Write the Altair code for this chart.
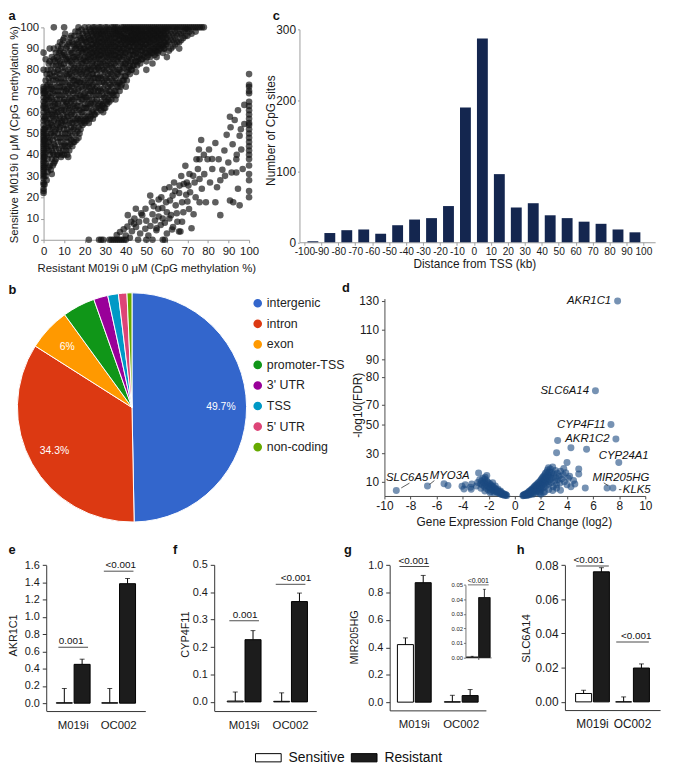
import altair as alt
import pandas as pd

# ---------------------------------------------------------------- data
# a : CpG methylation, resistant (x) vs sensitive (y)
a_col0 = [22, 23, 24, 26, 27, 29, 30, 31, 32, 33, 34, 35, 36, 37, 38, 39, 40, 41, 42, 43, 44,
          45, 46, 47, 48, 49, 50, 51, 52, 54, 56, 58, 60, 62, 63, 65, 67, 69, 70, 71, 72, 80, 88]
a_top = [5, 10, 17, 20, 22, 24, 25, 27, 28, 30, 31, 33, 34, 35, 36, 38, 39, 40, 41, 42, 43, 44,
         45, 46, 47, 48, 49, 50, 51, 52, 53, 54, 55, 56, 57, 58, 59, 60, 61, 62, 63, 64, 65, 66,
         67, 68, 69, 70, 71, 72, 73, 74, 75, 76, 77, 78]
a_upper = [
    (1, [30, 36, 41, 45, 50, 53, 58, 62, 66, 70, 75, 85]),
    (2, [32, 38, 44, 48, 55, 60, 64, 68, 73, 80]),
    (3, [35, 40, 47, 52, 57, 63, 69, 74, 78, 84, 90]),
    (4, [31, 38, 42, 50, 54, 59, 66, 71, 77, 86]),
    (5, [36, 40, 45, 49, 56, 61, 65, 72, 79, 85, 90]),
    (6, [38, 43, 52, 57, 62, 68, 75, 82, 88]),
    (7, [40, 46, 50, 55, 60, 64, 70, 76, 80, 85, 91]),
    (8, [41, 48, 53, 58, 66, 72, 78, 84, 89, 93]),
    (9, [40, 44, 50, 56, 62, 68, 74, 81, 87, 92]),
    (10, [40, 45, 52, 57, 61, 66, 71, 76, 83, 88, 95]),
    (11, [42, 48, 54, 60, 65, 70, 78, 85, 90]),
    (12, [39, 44, 50, 58, 63, 69, 74, 80, 86, 92]),
    (13, [45, 51, 56, 62, 67, 73, 79, 84, 89, 95]),
    (14, [44, 49, 55, 60, 66, 72, 77, 83, 88, 93]),
    (15, [46, 53, 59, 64, 70, 75, 81, 86, 91, 96]),
    (16, [47, 55, 61, 67, 73, 78, 84, 90, 94]),
    (17, [48, 53, 58, 65, 71, 76, 82, 88, 93, 98]),
    (18, [52, 57, 63, 68, 74, 80, 85, 90, 95]),
    (19, [54, 60, 66, 71, 77, 83, 88, 92, 97]),
    (20, [55, 58, 64, 69, 75, 81, 86, 90, 94]),
    (21, [56, 62, 67, 73, 79, 84, 89, 93, 97]),
    (22, [55, 60, 66, 72, 77, 82, 87, 91, 95]),
    (23, [58, 64, 70, 75, 80, 86, 90, 94, 98]),
    (24, [57, 61, 68, 73, 78, 84, 88, 92, 96]),
    (25, [59, 65, 71, 76, 82, 87, 91, 95, 99]),
    (26, [60, 66, 72, 78, 83, 88, 92, 96]),
    (27, [62, 68, 74, 80, 85, 89, 93, 97]),
    (28, [61, 65, 70, 76, 82, 87, 91, 95, 98]),
    (29, [60, 64, 71, 77, 83, 88, 92, 96]),
    (30, [62, 67, 73, 79, 84, 89, 93, 97]),
    (31, [64, 69, 75, 81, 86, 90, 94, 98]),
    (32, [65, 70, 76, 82, 87, 91, 95, 99]),
    (33, [66, 72, 78, 83, 88, 92, 96]),
    (34, [68, 74, 80, 85, 89, 93, 97]),
    (35, [66, 70, 76, 82, 87, 91, 95, 98]),
    (36, [72, 78, 84, 88, 92, 96, 99]),
    (37, [70, 74, 80, 86, 90, 94, 97]),
    (38, [73, 79, 85, 89, 93, 96]),
    (39, [75, 81, 86, 90, 94, 97]),
    (40, [72, 77, 83, 88, 92, 95, 99]),
    (41, [79, 84, 89, 93, 96]),
    (42, [78, 82, 87, 91, 94, 98]),
    (43, [80, 85, 89, 93, 96, 99]),
    (44, [82, 87, 91, 94, 97]),
    (45, [79, 84, 88, 92, 95, 98]),
    (46, [84, 89, 93, 96, 99]),
    (47, [83, 87, 91, 94, 97]),
    (48, [85, 89, 92, 95, 98]),
    (49, [86, 90, 94, 97]),
    (50, [80, 84, 88, 92, 95, 98]),
    (51, [87, 91, 94, 97]),
    (52, [86, 89, 93, 96, 99]),
    (53, [83, 88, 92, 95, 98]),
    (54, [87, 90, 94, 97]),
    (55, [86, 89, 93, 96, 99]),
    (56, [89, 92, 95, 98]),
    (57, [90, 94, 97]),
    (58, [88, 91, 95, 98]),
    (59, [90, 93, 96, 99]),
    (60, [86, 92, 95, 98]),
    (62, [90, 94, 97]),
    (64, [92, 95, 98]),
    (66, [90, 93, 97]),
    (68, [95, 98]),
    (70, [96, 99]),
    (72, [97]),
]
a_upper2 = [
    (0.5, [26, 34, 39, 47, 52, 57, 64, 69]),
    (1.5, [28, 43, 49, 56, 61, 67, 72, 78]),
    (2.5, [34, 42, 46, 53, 59, 66, 71, 76, 83]),
    (3.5, [33, 44, 50, 55, 61, 67, 72, 80]),
    (4.5, [35, 41, 47, 53, 58, 63, 69, 75, 82]),
    (5.5, [37, 44, 51, 59, 64, 70, 77, 84]),
    (6.5, [40, 48, 54, 60, 66, 72, 79, 86]),
    (7.5, [43, 52, 57, 63, 68, 74, 82, 88]),
    (8.5, [39, 46, 55, 61, 70, 76, 83, 90]),
    (9.5, [42, 48, 54, 59, 65, 72, 79, 86, 94]),
    (10.5, [44, 50, 56, 63, 68, 74, 81, 87, 97]),
    (11.5, [40, 46, 52, 58, 64, 71, 77, 84, 91]),
    (12.5, [42, 48, 55, 61, 66, 72, 78, 85, 93]),
    (13.5, [47, 53, 59, 65, 70, 76, 82, 88, 96]),
    (14.5, [46, 52, 57, 63, 69, 75, 80, 86, 92]),
    (15.5, [50, 56, 62, 67, 73, 79, 85, 90, 98]),
    (16.5, [51, 57, 63, 70, 75, 81, 87, 92]),
    (17.5, [50, 56, 61, 68, 74, 79, 86, 91, 96]),
    (18.5, [55, 60, 66, 72, 78, 83, 89, 94, 99]),
    (19.5, [56, 62, 68, 74, 80, 85, 90, 95]),
    (20.5, [57, 62, 67, 72, 78, 84, 88, 93, 98]),
    (21.5, [58, 64, 70, 76, 81, 86, 91, 96]),
    (22.5, [57, 63, 69, 74, 80, 85, 89, 94, 99]),
    (23.5, [60, 66, 72, 78, 83, 88, 92, 97]),
    (24.5, [59, 64, 70, 76, 81, 86, 90, 94, 98]),
    (25.5, [62, 68, 74, 80, 85, 89, 93, 97]),
    (26.5, [63, 70, 76, 81, 86, 90, 94, 98]),
    (27.5, [64, 71, 77, 83, 87, 91, 95, 99]),
    (28.5, [63, 68, 74, 80, 85, 89, 93, 97]),
    (29.5, [62, 67, 74, 80, 86, 90, 94, 98]),
    (30.5, [65, 70, 76, 82, 87, 91, 95, 99]),
    (31.5, [66, 72, 78, 84, 88, 92, 96]),
    (32.5, [68, 73, 79, 85, 89, 93, 97]),
    (33.5, [69, 75, 81, 86, 90, 94, 98]),
    (34.5, [70, 77, 83, 87, 91, 95, 99]),
    (35.5, [68, 73, 79, 85, 89, 93, 97]),
    (36.5, [74, 80, 86, 90, 94, 98]),
    (37.5, [72, 77, 83, 88, 92, 96, 99]),
    (38.5, [75, 82, 87, 91, 95, 98]),
    (39.5, [77, 83, 88, 92, 95, 99]),
    (40.5, [75, 80, 85, 90, 94, 97]),
    (41.5, [81, 86, 91, 95, 98]),
    (42.5, [80, 84, 89, 93, 96, 99]),
    (43.5, [82, 87, 91, 94, 97]),
    (44.5, [84, 89, 93, 96, 99]),
    (45.5, [82, 86, 90, 94, 97]),
    (46.5, [86, 91, 95, 98]),
    (47.5, [85, 89, 93, 96, 99]),
    (48.5, [87, 91, 94, 97]),
    (49.5, [88, 92, 96, 99]),
    (50.5, [86, 90, 94, 97]),
    (51.5, [89, 93, 96, 99]),
    (52.5, [88, 91, 95, 98]),
    (53.5, [90, 94, 97]),
    (54.5, [89, 92, 96, 99]),
    (55.5, [88, 91, 95, 98]),
    (56.5, [91, 94, 97]),
    (57.5, [92, 96, 99]),
    (58.5, [90, 93, 97]),
    (59.5, [92, 95, 98]),
    (61, [89, 93, 96, 99]),
    (63, [91, 94, 97]),
    (65, [93, 96, 99]),
    (67, [94, 97]),
    (69, [96, 99]),
    (71, [98]),
    (74, [98]),
]
a_lower = [(22, 0), (27, 0), (28, 0), (29, 0), (32, 0), (33, 0), (34, 0), (35, 0), (36, 0), (37, 0),
           (38, 0), (39, 0), (40, 0), (46, 0), (50, 0), (53, 0), (58, 0), (59, 0),
           (35.6, 2.2), (37.2, 3.7), (39, 5), (40, 2), (41, 11.6), (42.6, 8.5), (43, 4), (44.2, 10),
           (44.9, 14.6), (46.5, 8.5), (47, 3), (48, 11.6), (49.5, 5.2), (49.6, 14.6), (50, 9),
           (51, 2), (51.9, 20.8), (52.7, 17.7), (53, 12), (54.2, 9.1), (54.9, 4.5), (55, 5.4),
           (55.8, 14.6), (56, 19), (57.3, 20), (57, 7), (58, 10), (58.9, 23.9), (59.6, 17.7),
           (60, 3), (60, 13), (61.2, 24.7), (61.2, 10), (62, 11.6), (62.8, 20.8), (63.5, 27),
           (63, 6), (64.3, 16.2), (65.1, 8.5), (65.9, 3.9), (66.6, 3.9), (66, 22), (67.4, 8.5),
           (67.4, 17.7), (68.2, 26.3), (68, 13), (69, 34.8), (69.7, 27), (70.5, 25.5), (70, 18),
           (71.3, 22.4), (72, 5.4), (72.8, 30.1), (73, 12), (74.4, 37.9), (75.1, 33.3),
           (75.6, 42.5), (75.9, 37.9), (75.9, 28.6), (75.9, 17.7), (76.7, 47), (77, 24),
           (78.2, 30.9), (79, 17.7), (79.8, 37.9), (80.5, 42.5), (81, 27), (82.1, 33.3),
           (83.6, 45.6), (83.6, 17.7), (84.4, 24.7), (85.2, 37.9), (86, 11.6), (87, 33),
           (88.3, 30.1), (89.1, 49.4), (89.9, 36.4), (90.7, 57.9), (90.7, 18.5), (91.5, 31.7),
           (92.3, 17.7), (92, 45), (93, 56.4), (93.8, 37.9), (93.8, 31.7), (94.6, 61), (94.6, 24),
           (95.4, 49), (95.4, 16.2), (96.2, 42.5), (96.9, 33.3), (97.7, 54.5), (97.7, 63.5),
           (96, 52), (94, 40), (91, 53), (88, 42), (86, 28), (82, 38), (78, 40), (74, 20),
           (71, 31), (64, 23), (59, 8), (56, 11), (45, 6), (42, 1), (47.5, 12.5), (52, 6.5),
           (57.8, 15), (61.5, 18.5), (64.8, 12.5), (67, 30), (70.8, 14.5), (73.5, 27),
           (44, 7.5), (40.8, 6.2), (53.6, 15.8), (62.5, 4.8), (66.2, 25.5), (69.4, 21.2)]
a_col100 = [20, 23, 28, 31, 35, 38, 40, 42, 44, 46, 48, 50, 52, 54, 55, 57, 59, 61, 63, 65,
            69, 70, 72, 73, 78]

# b : genomic annotation of CpG sites
b_cat = ["intergenic", "intron", "exon", "promoter-TSS", "3' UTR", "TSS", "5' UTR", "non-coding"]
b_pct = [49.7, 34.3, 6.0, 4.6, 2.0, 1.5, 1.2, 0.7]
b_lab = ["49.7%", "34.3%", "6%", "", "", "", "", ""]
b_col = ["#3366cc", "#dc3912", "#ff9900", "#109618", "#990099", "#0099c6", "#dd4477", "#66aa00"]

# c : distance from TSS histogram
c_kb = [-95, -85, -75, -65, -55, -45, -35, -25, -15, -5, 5, 15, 25, 35, 45, 55, 65, 75, 85, 95]
c_sites = [1.4, 13, 17, 18, 12, 24, 32, 34, 51, 190, 287, 96, 49, 55, 38, 34, 29, 26, 18, 14]

# d : volcano plot
d_right = [(0.62, 0.2), (0.65, 0.6), (0.7, 0.3), (0.72, 1.0), (0.78, 0.5), (0.8, 1.3), (0.85, 0.8),
           (0.88, 1.8), (0.92, 0.4), (0.95, 1.2), (0.98, 2.2), (1.0, 0.7), (1.02, 1.6), (1.05, 2.8),
           (1.08, 1.1), (1.1, 2.0), (1.12, 3.3), (1.15, 0.9), (1.18, 2.5), (1.2, 3.8), (1.22, 1.5),
           (1.25, 3.0), (1.28, 4.4), (1.3, 2.1), (1.32, 5.0), (1.35, 3.5), (1.38, 1.3), (1.4, 4.2),
           (1.42, 5.6), (1.45, 2.7), (1.48, 6.3), (1.5, 3.9), (1.52, 5.0), (1.55, 7.0), (1.58, 2.2),
           (1.6, 4.6), (1.62, 7.6), (1.65, 5.8), (1.68, 3.3), (1.7, 8.3), (1.72, 6.5), (1.75, 4.1),
           (1.78, 9.0), (1.8, 7.2), (1.82, 5.2), (1.85, 9.8), (1.88, 3.0), (1.9, 8.0), (1.92, 6.1),
           (1.95, 10.6), (1.98, 4.5), (2.0, 8.9), (2.02, 11.5), (2.05, 7.0), (2.08, 12.4),
           (2.1, 5.4), (2.12, 9.7), (2.15, 13.2), (2.18, 8.0), (2.2, 10.8), (2.22, 14.0),
           (2.25, 6.2), (2.28, 12.0), (2.3, 15.0), (2.32, 9.0), (2.35, 16.0), (2.38, 11.0),
           (2.4, 13.5), (2.42, 7.5), (2.45, 17.0), (2.48, 12.5), (2.5, 18.4), (2.52, 10.0),
           (2.55, 15.0), (2.58, 20.0), (2.6, 13.8), (2.62, 8.5), (2.65, 17.0), (2.7, 11.5),
           (2.72, 19.0), (2.75, 14.5), (2.8, 9.5), (2.82, 16.5), (2.85, 12.8), (2.9, 20.5),
           (2.95, 6.5), (3.0, 15.5), (3.05, 10.8), (3.1, 18.0), (3.15, 13.0), (3.2, 8.0),
           (3.25, 16.0), (3.3, 11.5), (3.4, 14.0), (3.45, 9.0), (3.5, 17.5), (3.6, 12.0),
           (3.7, 15.0), (3.8, 10.0), (3.9, 16.5), (4.0, 8.0), (4.1, 12.5), (4.2, 14.0), (2.3, 3.0),
           (2.6, 4.5), (2.9, 3.8), (3.2, 5.5), (3.5, 4.0), (1.9, 1.8), (2.2, 2.5), (2.0, 1.2),
           (3.28, 39.0), (3.2, 30.5), (4.3, 34.0), (5.5, 33.0), (4.0, 23.6), (4.9, 19.0),
           (4.9, 15.5), (4.5, 11.0), (4.6, 8.5), (5.4, 5.7), (4.3, 6.5), (3.75, 19.5)]
d_left = [(-0.62, 0.3), (-0.68, 0.8), (-0.72, 0.4), (-0.78, 1.2), (-0.82, 0.6), (-0.88, 1.6),
          (-0.92, 0.9), (-0.98, 2.1), (-1.02, 1.1), (-1.08, 2.6), (-1.12, 1.5), (-1.18, 3.1),
          (-1.22, 1.9), (-1.28, 3.6), (-1.32, 2.4), (-1.38, 4.2), (-1.42, 2.9), (-1.48, 4.8),
          (-1.52, 3.4), (-1.56, 5.5), (-1.6, 2.2), (-1.64, 6.1), (-1.68, 4.0), (-1.72, 6.8),
          (-1.76, 4.8), (-1.8, 7.5), (-1.84, 3.2), (-1.88, 8.2), (-1.92, 5.6), (-1.96, 9.0),
          (-2.0, 6.4), (-2.04, 4.2), (-2.08, 9.8), (-2.12, 7.2), (-2.16, 10.8), (-2.2, 5.5),
          (-2.25, 8.6), (-2.3, 11.8), (-2.35, 6.8), (-2.4, 9.5), (-2.45, 12.5), (-2.5, 7.8),
          (-2.55, 10.5), (-2.62, 8.7), (-2.7, 11.4), (-2.78, 16.2), (-2.15, 14.5), (-2.28, 13.3),
          (-1.7, 9.3), (-1.5, 7.0), (-2.6, 5.5), (-2.85, 9.5), (-2.95, 7.0), (-1.3, 5.0),
          (-1.1, 3.6), (-1.9, 2.3), (-2.3, 3.5), (-4.05, 6.9), (-3.8, 7.9), (-3.4, 6.2),
          (-3.3, 8.4), (-3.9, 5.0), (-3.35, 4.8), (-5.43, 8.6), (-5.13, 7.4)]
d_gene = ["AKR1C1", "SLC6A14", "CYP4F11", "AKR1C2", "CYP24A1", "MIR205HG", "KLK5", "SLC6A5", "MYO3A"]
d_gx = [7.88, 6.18, 7.37, 7.75, 7.97, 7.07, 7.52, -9.09, -6.7]
d_gy = [130, 75, 50, 40, 23.6, 5.7, 5.7, 3.9, 7.0]
d_lead_x = [-8.71, -6.55, 6.82, 7.98]
d_lead_y = [5.7, 8.1, 9.3, 4.5]
d_lead_x2 = [-8.08, -6.17, 7.14, 8.17]
d_lead_y2 = [9.1, 10.9, 7.4, 4.5]

# e-h : qPCR expression
lines = ["M019i", "OC002"]
conds = ["Sensitive", "Resistant"]
e_val = [0.005, 0.45, 0.005, 1.385]
e_err = [0.17, 0.51, 0.17, 1.445]
e_sig = [0.647, 1.53]
e_p = ["0.001", "<0.001"]
f_val = [0.003, 0.227, 0.002, 0.366]
f_err = [0.036, 0.26, 0.033, 0.397]
f_sig = [0.296, 0.429]
f_p = ["0.001", "<0.001"]
g_val = [0.42, 0.872, 0.003, 0.048]
g_err = [0.469, 0.925, 0.05, 0.092]
g_sig = [0.99]
g_p = ["<0.001"]
gi_val = [0.0003, 0.0413]
gi_err = [0.0008, 0.047]
gi_sig = [0.05]
gi_p = ["<0.001"]
h_val = [0.0049, 0.0761, 0.0, 0.0198]
h_err = [0.0068, 0.0785, 0.0029, 0.0222]
h_sig = [0.0795, 0.035]
h_p = ["<0.001", "<0.001"]

# ---------------------------------------------------------------- layout helpers
O = 8            # page margin; picture coordinate = chart coordinate + O
W, H = 667, 758
FONT = "Liberation Sans"


def px(v):
    return v - O


def rng(a, b):
    return [px(a), px(b)]


def bottom_axis(axis_y, title_xc=None, title_yc=None, **kw):
    d = dict(orient="bottom", offset=px(axis_y) - H, grid=False, labelFlush=False)
    if title_xc is not None:
        d.update(titleX=px(title_xc), titleY=title_yc - axis_y, titleBaseline="middle",
                 titleAlign="center", titleAngle=0)
    d.update(kw)
    return alt.Axis(**d)


def left_axis(axis_x, title_xc=None, title_yc=None, **kw):
    d = dict(orient="left", offset=-px(axis_x), grid=False, labelFlush=False)
    if title_xc is not None:
        d.update(titleX=title_xc - axis_x, titleY=px(title_yc), titleBaseline="middle",
                 titleAlign="center", titleAngle=270)
    d.update(kw)
    return alt.Axis(**d)


HYPHEN = "'' + datum.value"
layers = []

# ---------------------------------------------------------------- panel a
rows = [(0, y) for y in a_col0] + [(x, 100) for x in a_top]
for x, ys in a_upper + a_upper2:
    rows += [(x, y) for y in ys]
rows += a_lower + [(100, y) for y in a_col100]
df_a = pd.DataFrame(rows, columns=["x", "y"])
gray = dict(domainColor="#9c9c9c", tickColor="#9c9c9c")
layers.append(alt.Chart(df_a).mark_circle(size=44, color="#111111", opacity=0.68).encode(
    x=alt.X("x:Q", scale=alt.Scale(domain=[0, 100], range=rng(44, 252), nice=False, zero=False),
            axis=bottom_axis(238, 148, 267, title="Resistant M019i 0 μM (CpG methylation %)",
                             values=list(range(0, 101, 10)), tickSize=3, labelPadding=3,
                             labelFontSize=11.5, titleFontSize=11.5, labelOverlap=False, **gray)),
    y=alt.Y("y:Q", scale=alt.Scale(domain=[0, 100], range=rng(238, 23), nice=False, zero=False),
            axis=left_axis(44, 15, 131, title="Sensitive M019i 0 μM (CpG methylation %)",
                           values=list(range(0, 101, 10)), tickSize=3, labelPadding=2,
                           labelFontSize=11.5, titleFontSize=11.5, labelOverlap=False, **gray)),
))

# ---------------------------------------------------------------- panel c
df_c = pd.DataFrame({"kb": c_kb, "n": c_sites})
layers.append(alt.Chart(df_c).mark_bar(size=11, color="#14264f").encode(
    x=alt.X("kb:Q", scale=alt.Scale(domain=[-100, 104], range=rng(303, 663), nice=False, zero=False),
            axis=bottom_axis(240.5, 480, 262, title="Distance from TSS (kb)",
                             values=list(range(-100, 101, 10)), tickSize=3, labelPadding=1.5,
                             labelFontSize=10.3, titleFontSize=12, labelOverlap=False,
                             labelExpr=HYPHEN, **gray)),
    y=alt.Y("n:Q", scale=alt.Scale(domain=[0, 300], range=rng(240.5, 25), nice=False, zero=False),
            axis=left_axis(303, 274, 127, title="Number of CpG sites", values=[0, 100, 200, 300],
                           tickSize=2, labelPadding=2, labelFontSize=12, titleFontSize=12, **gray)),
))

# ---------------------------------------------------------------- panel b
pie_df = pd.DataFrame({"cat": b_cat, "pct": b_pct, "lab": b_lab, "idx": list(range(len(b_cat)))})
pie_base = alt.Chart(pie_df).encode(
    theta=alt.Theta("pct:Q", stack=True),
    order=alt.Order("idx:Q"),
    x=alt.value(px(133.5)), y=alt.value(px(407.7)),
)
layers.append(pie_base.mark_arc(radius=116, stroke="white", strokeWidth=1).encode(
    color=alt.Color("cat:N", scale=alt.Scale(domain=b_cat, range=b_col), sort=b_cat,
                    legend=alt.Legend(orient="none", legendX=px(254.5), legendY=px(296), title=None,
                                      symbolType="circle", symbolSize=105, labelFontSize=12.5,
                                      rowPadding=3.8, labelOffset=3, labelColor="#222"))
))
layers.append(pie_base.mark_text(radius=90, color="white", fontSize=10.5, font=FONT).encode(
    text="lab:N"))

# ---------------------------------------------------------------- panel d
pts = d_right + d_left + list(zip(d_gx, d_gy))
df_d = pd.DataFrame(pts, columns=["fc", "fdr"])
d_xs = alt.Scale(domain=[-10, 10], range=rng(389, 653), nice=False, zero=False)
d_dom = [0, 10, 30, 50, 70, 80, 90, 110, 130, 133]
d_pix = [497.3, 483, 454.3, 425, 405, 376.7, 359, 329.3, 300, 297.5]
d_ys = alt.Scale(domain=d_dom, range=[px(v) for v in d_pix], nice=False, zero=False)
dark = dict(domainColor="#4a4a4a", tickColor="#4a4a4a")
layers.append(alt.Chart(df_d).mark_circle(size=50, color="#1b4a80", opacity=0.6).encode(
    x=alt.X("fc:Q", scale=d_xs,
            axis=bottom_axis(497.3, 520, 523, title="Gene Expression Fold Change (log2)",
                             values=list(range(-10, 11, 2)), tickSize=3, labelPadding=1.5,
                             labelFontSize=12, titleFontSize=12, labelExpr=HYPHEN, **dark)),
    y=alt.Y("fdr:Q", scale=d_ys,
            axis=left_axis(389, 362, 405, title="-log10(FDR)",
                           values=[10, 30, 50, 70, 80, 90, 110, 130], tickSize=3, labelPadding=3,
                           labelFontSize=12, titleFontSize=12, **dark)),
))
df_lead = pd.DataFrame({"x": d_lead_x, "y": d_lead_y, "x2": d_lead_x2, "y2": d_lead_y2})
layers.append(alt.Chart(df_lead).mark_rule(color="#333333", strokeWidth=0.8).encode(
    x=alt.X("x:Q", scale=d_xs, axis=None), y=alt.Y("y:Q", scale=d_ys, axis=None),
    x2="x2:Q", y2="y2:Q"))
df_gene = pd.DataFrame({"gene": d_gene, "fc": d_gx, "fdr": d_gy})
label_style = {   # gene: (align, dx, dy)
    "AKR1C1": ("right", -6.5, 0), "SLC6A14": ("right", -6.5, 0), "CYP4F11": ("right", -5.5, 0),
    "AKR1C2": ("right", -6.5, 0), "CYP24A1": ("center", 5, -6.5), "MIR205HG": ("center", 14, -10),
    "KLK5": ("left", 10, 2), "SLC6A5": ("center", 11, -12.5), "MYO3A": ("center", 22.5, -10.5),
}
for g, (al, dx, dy) in label_style.items():
    layers.append(
        alt.Chart(df_gene).transform_filter(alt.datum.gene == g).mark_text(
            align=al, baseline="middle", dx=dx, dy=dy, fontSize=11.5, fontStyle="italic",
            font=FONT, color="#111111").encode(
            x=alt.X("fc:Q", scale=d_xs, axis=None), y=alt.Y("fdr:Q", scale=d_ys, axis=None),
            text="gene:N"))

# ---------------------------------------------------------------- panels e-h
fill_enc = alt.Fill(
    "cond:N", scale=alt.Scale(domain=conds, range=["#ffffff", "#1c1c1c"]), sort=conds,
    legend=alt.Legend(orient="none", legendX=px(258), legendY=px(761.5) - 13,
                      direction="horizontal", title=None, symbolType="M-1,-0.32H1V0.32H-1Z",
                      symbolSize=676, symbolStrokeColor="black", symbolStrokeWidth=1,
                      labelFontSize=14, labelOffset=7, columnPadding=4, labelColor="#111111"))


def bar_df(cells, vals, errs):
    rows_ = []
    k = 0
    for ln in cells:
        for cd in conds:
            rows_.append({"line": ln, "cond": cd, "val": vals[k], "err": errs[k]})
            k += 1
    return pd.DataFrame(rows_)


def bar_panel(cells, vals, errs, sig_lines, sigs, ps, xr, pin, pout, ydom, yr, ax_x, ax_y,
              yvals, fmt, ytitle, t_xc, t_yc, lab_fs=11, title_fs=11, x_fs=11.5, sig_w=30,
              sig_fs=10, cap=5, align=0.5, oin=0.1, oout=0.05, inset=False):
    df = bar_df(cells, vals, errs)
    sig_df = pd.DataFrame({"line": sig_lines, "sig": sigs, "p": ps})
    xs = alt.Scale(domain=cells, range=rng(*xr), paddingInner=pin, paddingOuter=pout, align=align)
    ys = alt.Scale(domain=ydom, range=rng(*yr), nice=False, zero=False)
    os_ = alt.Scale(domain=conds, paddingInner=oin, paddingOuter=oout)
    col = dict(domainColor="#333333", tickColor="#333333")
    if inset:
        xax = bottom_axis(ax_y, title=None, labels=False, ticks=True, tickSize=2,
                          domainColor="#555555", tickColor="#555555", domainWidth=0.8)
        yax = left_axis(ax_x, title=None, values=yvals, format=fmt, tickSize=2, labelPadding=1,
                        labelFontSize=lab_fs, domainColor="#555555", tickColor="#555555",
                        domainWidth=0.8, tickWidth=0.8)
    else:
        xax = bottom_axis(ax_y, title=None, labelAngle=0, ticks=False, tickSize=0,
                          labelPadding=8.5, labelFontSize=x_fs, **col)
        yax = left_axis(ax_x, t_xc, t_yc, title=ytitle, values=yvals, format=fmt, tickSize=4,
                        labelPadding=3, labelFontSize=lab_fs, titleFontSize=title_fs, **col)
    lw = 0.8 if inset else 1
    out = []
    out.append(alt.Chart(df).mark_bar(stroke="black", strokeWidth=lw).encode(
        x=alt.X("line:N", scale=xs, axis=xax, sort=cells),
        xOffset=alt.XOffset("cond:N", scale=os_, sort=conds),
        y=alt.Y("val:Q", scale=ys, axis=yax, stack=None),
        fill=fill_enc))
    out.append(alt.Chart(df).mark_rule(color="black", strokeWidth=lw).encode(
        x=alt.X("line:N", scale=xs, axis=None, sort=cells),
        xOffset=alt.XOffset("cond:N", scale=os_, sort=conds),
        y=alt.Y("val:Q", scale=ys, axis=None, stack=None), y2="err:Q"))
    out.append(alt.Chart(df).mark_tick(orient="horizontal", size=cap, thickness=lw,
                                       color="black").encode(
        x=alt.X("line:N", scale=xs, axis=None, sort=cells),
        xOffset=alt.XOffset("cond:N", scale=os_, sort=conds),
        y=alt.Y("err:Q", scale=ys, axis=None)))
    out.append(alt.Chart(sig_df).mark_tick(orient="horizontal", size=sig_w, thickness=lw,
                                           color="black").encode(
        x=alt.X("line:N", scale=xs, axis=None, sort=cells),
        y=alt.Y("sig:Q", scale=ys, axis=None)))
    out.append(alt.Chart(sig_df).mark_text(baseline="alphabetic", dy=-3 if not inset else -2,
                                           fontSize=sig_fs, font=FONT, color="#111111").encode(
        x=alt.X("line:N", scale=xs, axis=None, sort=cells),
        y=alt.Y("sig:Q", scale=ys, axis=None),
        text="p:N"))
    return out


layers += bar_panel(lines, e_val, e_err, lines, e_sig, e_p, (47, 147), 0.217, 0.196,
                    [-0.0914, 1.6], (715, 567.3), 46.7, 715,
                    [0, 0.2, 0.4, 0.6, 0.8, 1.0, 1.2, 1.4, 1.6], ".1f", "AKR1C1", 13.5, 638)
layers += bar_panel(lines, f_val, f_err, lines, f_sig, f_p, (217, 320), 0.234, 0.213,
                    [-0.0335, 0.5], (715, 567), 216.7, 715,
                    [0, 0.1, 0.2, 0.3, 0.4, 0.5], ".1f", "CYP4F11", 187.7, 637, align=0.6)
layers += bar_panel(lines, g_val, g_err, ["M019i"], g_sig, g_p, (394.3, 491.7), 0.242, 0.146,
                    [-0.06, 1.0], (714.3, 567.3), 394.3, 714.3,
                    [0, 0.2, 0.4, 0.6, 0.8, 1.0], ".1f", "MIR205HG", 358.3, 640)
layers += bar_panel(["OC002"], gi_val, gi_err, ["OC002"], gi_sig, gi_p, (471, 497), 0.0, 0.04,
                    [0, 0.05], (660.7, 587.3), 471, 660.7,
                    [0, 0.01, 0.02, 0.03, 0.04, 0.05], ".2f", None, None, None, lab_fs=6,
                    sig_w=21, sig_fs=7, cap=3, oin=0.05, oout=0.0, inset=True)
layers += bar_panel(lines, h_val, h_err, lines, h_sig, h_p, (571.7, 668), 0.111, 0.244,
                    [-0.0048, 0.08], (714, 567.3), 571.7, 714,
                    [0, 0.02, 0.04, 0.06, 0.08], ".2f", "SLC6A14", 533, 641,
                    lab_fs=12, title_fs=11.5, x_fs=12, sig_w=33)

# ---------------------------------------------------------------- panel letters
letters = [("a", 8.5, 16), ("b", 8.5, 293), ("c", 276, 16), ("d", 346, 291),
           ("e", 8.5, 556), ("f", 175, 556), ("g", 348, 556), ("h", 523, 556)]
for t, lx, ly in letters:
    layers.append(alt.Chart(pd.DataFrame({"t": [t]})).mark_text(
        align="left", baseline="alphabetic", fontSize=13, fontWeight="bold", font=FONT,
        color="#111111").encode(x=alt.value(px(lx)), y=alt.value(px(ly)), text="t:N"))

chart = alt.layer(*layers).resolve_scale(
    x="independent", y="independent", xOffset="independent"
).properties(
    width=W, height=H, padding=0, autosize=alt.AutoSizeParams(type="none")
).configure(font=FONT).configure_view(stroke=None).configure_axis(
    labelFont=FONT, titleFont=FONT, labelColor="#1a1a1a", titleColor="#1a1a1a",
    titleFontWeight="normal"
).configure_legend(labelFont=FONT)

chart.save("out.html", embed_options={"renderer": "svg", "actions": False})
